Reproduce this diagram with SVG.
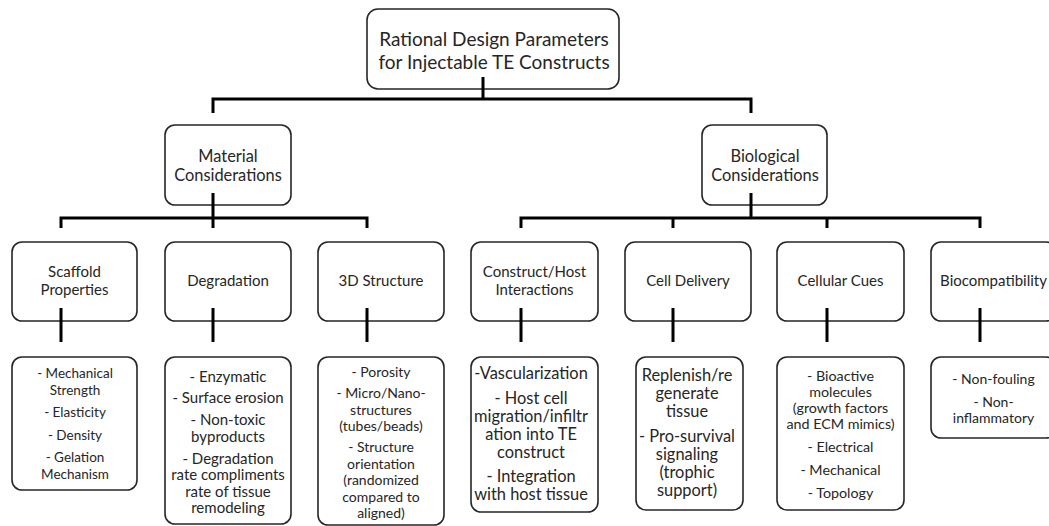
<svg xmlns="http://www.w3.org/2000/svg" width="1049" height="526" viewBox="0 0 1049 526">
<style>
.box{fill:#fff;stroke:#262626;stroke-width:1.6}
.t{font-family:Lato,"Liberation Sans",sans-serif;fill:#262626;text-anchor:middle}
.t0{font-size:19px}
.t1{font-size:16.4px}
.t2{font-size:15px}
.s135{font-size:13.5px}
.s14{font-size:14px}
.s143{font-size:14.3px}
.s15{font-size:15px}
.s164{font-size:16.4px}
.conn path{fill:none;stroke:#000;stroke-width:3}
</style>
<rect width="1049" height="526" fill="#fff"/>
<g id="root">
<rect class="box" x="367" y="9" width="252" height="80" rx="11"/>
<text class="t t0" x="494" y="46">Rational Design Parameters</text>
<text class="t t0" x="494" y="69">for Injectable TE Constructs</text>
</g>
<g id="material">
<rect class="box" x="165" y="125" width="126" height="80" rx="10"/>
<text class="t t1" x="228" y="162">Material</text>
<text class="t t1" x="228" y="181">Considerations</text>
</g>
<g id="biological">
<rect class="box" x="702" y="125" width="125" height="80" rx="10"/>
<text class="t t1" x="765" y="162">Biological</text>
<text class="t t1" x="765" y="181">Considerations</text>
</g>
<g id="scaffold">
<rect class="box" x="12" y="242" width="125" height="79" rx="10"/>
<text class="t t2" x="74.5" y="277">Scaffold</text>
<text class="t t2" x="74.5" y="295">Properties</text>
</g>
<g id="degradation">
<rect class="box" x="165" y="242" width="126" height="79" rx="10"/>
<text class="t t2" x="228" y="286">Degradation</text>
</g>
<g id="structure3d">
<rect class="box" x="318" y="242" width="126" height="79" rx="10"/>
<text class="t t2" x="381" y="286">3D Structure</text>
</g>
<g id="construct">
<rect class="box" x="471" y="242" width="127" height="79" rx="10"/>
<text class="t t2" x="534.5" y="277">Construct/Host</text>
<text class="t t2" x="534.5" y="295">Interactions</text>
</g>
<g id="celldelivery">
<rect class="box" x="625" y="242" width="126" height="79" rx="10"/>
<text class="t t2" x="688" y="286">Cell Delivery</text>
</g>
<g id="cellularcues">
<rect class="box" x="777" y="242" width="127" height="79" rx="10"/>
<text class="t t2" x="840.5" y="286">Cellular Cues</text>
</g>
<g id="biocompat">
<rect class="box" x="931" y="242" width="125" height="79" rx="10"/>
<text class="t t2" x="993.5" y="286">Biocompatibility</text>
</g>
<g id="scaffold-list">
<rect class="box" x="12" y="357" width="125" height="133" rx="10"/>
<g class="t s135">
<text x="75" y="378">- Mechanical</text>
<text x="75" y="395">Strength</text>
<text x="75" y="417">- Elasticity</text>
<text x="75" y="440">- Density</text>
<text x="75" y="462">- Gelation</text>
<text x="75" y="479">Mechanism</text>
</g>
</g>
<g id="degradation-list">
<rect class="box" x="165" y="357" width="126" height="167" rx="10"/>
<g class="t s15">
<text x="228" y="382">- Enzymatic</text>
<text x="228" y="403">- Surface erosion</text>
<text x="228" y="425">- Non-toxic</text>
<text x="228" y="442">byproducts</text>
<text x="228" y="464">- Degradation</text>
<text x="228" y="480">rate compliments</text>
<text x="228" y="497">rate of tissue</text>
<text x="228" y="513">remodeling</text>
</g>
</g>
<g id="structure3d-list">
<rect class="box" x="318" y="357" width="126" height="168" rx="10"/>
<g class="t s14">
<text x="381" y="377">- Porosity</text>
<text x="381" y="398">- Micro/Nano-</text>
<text x="381" y="414.5">structures</text>
<text x="381" y="431">(tubes/beads)</text>
<text x="381" y="452">- Structure</text>
<text x="381" y="468.5">orientation</text>
<text x="381" y="485">(randomized</text>
<text x="381" y="501.5">compared to</text>
<text x="381" y="518">aligned)</text>
</g>
</g>
<g id="construct-list">
<rect class="box" x="471" y="357" width="127" height="155" rx="10"/>
<g class="t s164">
<text x="531" y="379">-Vascularization</text>
<text x="531" y="404">- Host cell</text>
<text x="531" y="422">migration/infiltr</text>
<text x="531" y="440">ation into TE</text>
<text x="531" y="458">construct</text>
<text x="531" y="482">- Integration</text>
<text x="531" y="500">with host tissue</text>
</g>
</g>
<g id="celldelivery-list">
<rect class="box" x="636" y="357" width="107" height="153" rx="10"/>
<g class="t s164">
<text x="687" y="381">Replenish/re</text>
<text x="687" y="399">generate</text>
<text x="687" y="417">tissue</text>
<text x="687" y="442">- Pro-survival</text>
<text x="687" y="460">signaling</text>
<text x="687" y="478">(trophic</text>
<text x="687" y="496">support)</text>
</g>
</g>
<g id="cellularcues-list">
<rect class="box" x="777" y="357" width="127" height="153" rx="10"/>
<g class="t s143">
<text x="840.5" y="381">- Bioactive</text>
<text x="840.5" y="397">molecules</text>
<text x="840.5" y="413">(growth factors</text>
<text x="840.5" y="429">and ECM mimics)</text>
<text x="840.5" y="452">- Electrical</text>
<text x="840.5" y="475">- Mechanical</text>
<text x="840.5" y="498">- Topology</text>
</g>
</g>
<g id="biocompat-list">
<rect class="box" x="931" y="357" width="125" height="81" rx="10"/>
<g class="t s14">
<text x="993.5" y="384">- Non-fouling</text>
<text x="993.5" y="407">- Non-</text>
<text x="993.5" y="423">inflammatory</text>
</g>
</g>
<g id="connectors" class="conn">
<path d="M483 77V99M213 99H751M213 97.5V113M751 97.5V113"/>
<path d="M213 193V218M61 218H367M61 216.5V228M367 216.5V228M213 216.5V228"/>
<path d="M751 193V218M521 218H980M521 216.5V228M673 216.5V228M827 216.5V228M980 216.5V228"/>
<path d="M61 308V342M213 308V342M367 308V342M521 308V342M673 308V342M827 308V342M980 308V342"/>
</g>
</svg>
